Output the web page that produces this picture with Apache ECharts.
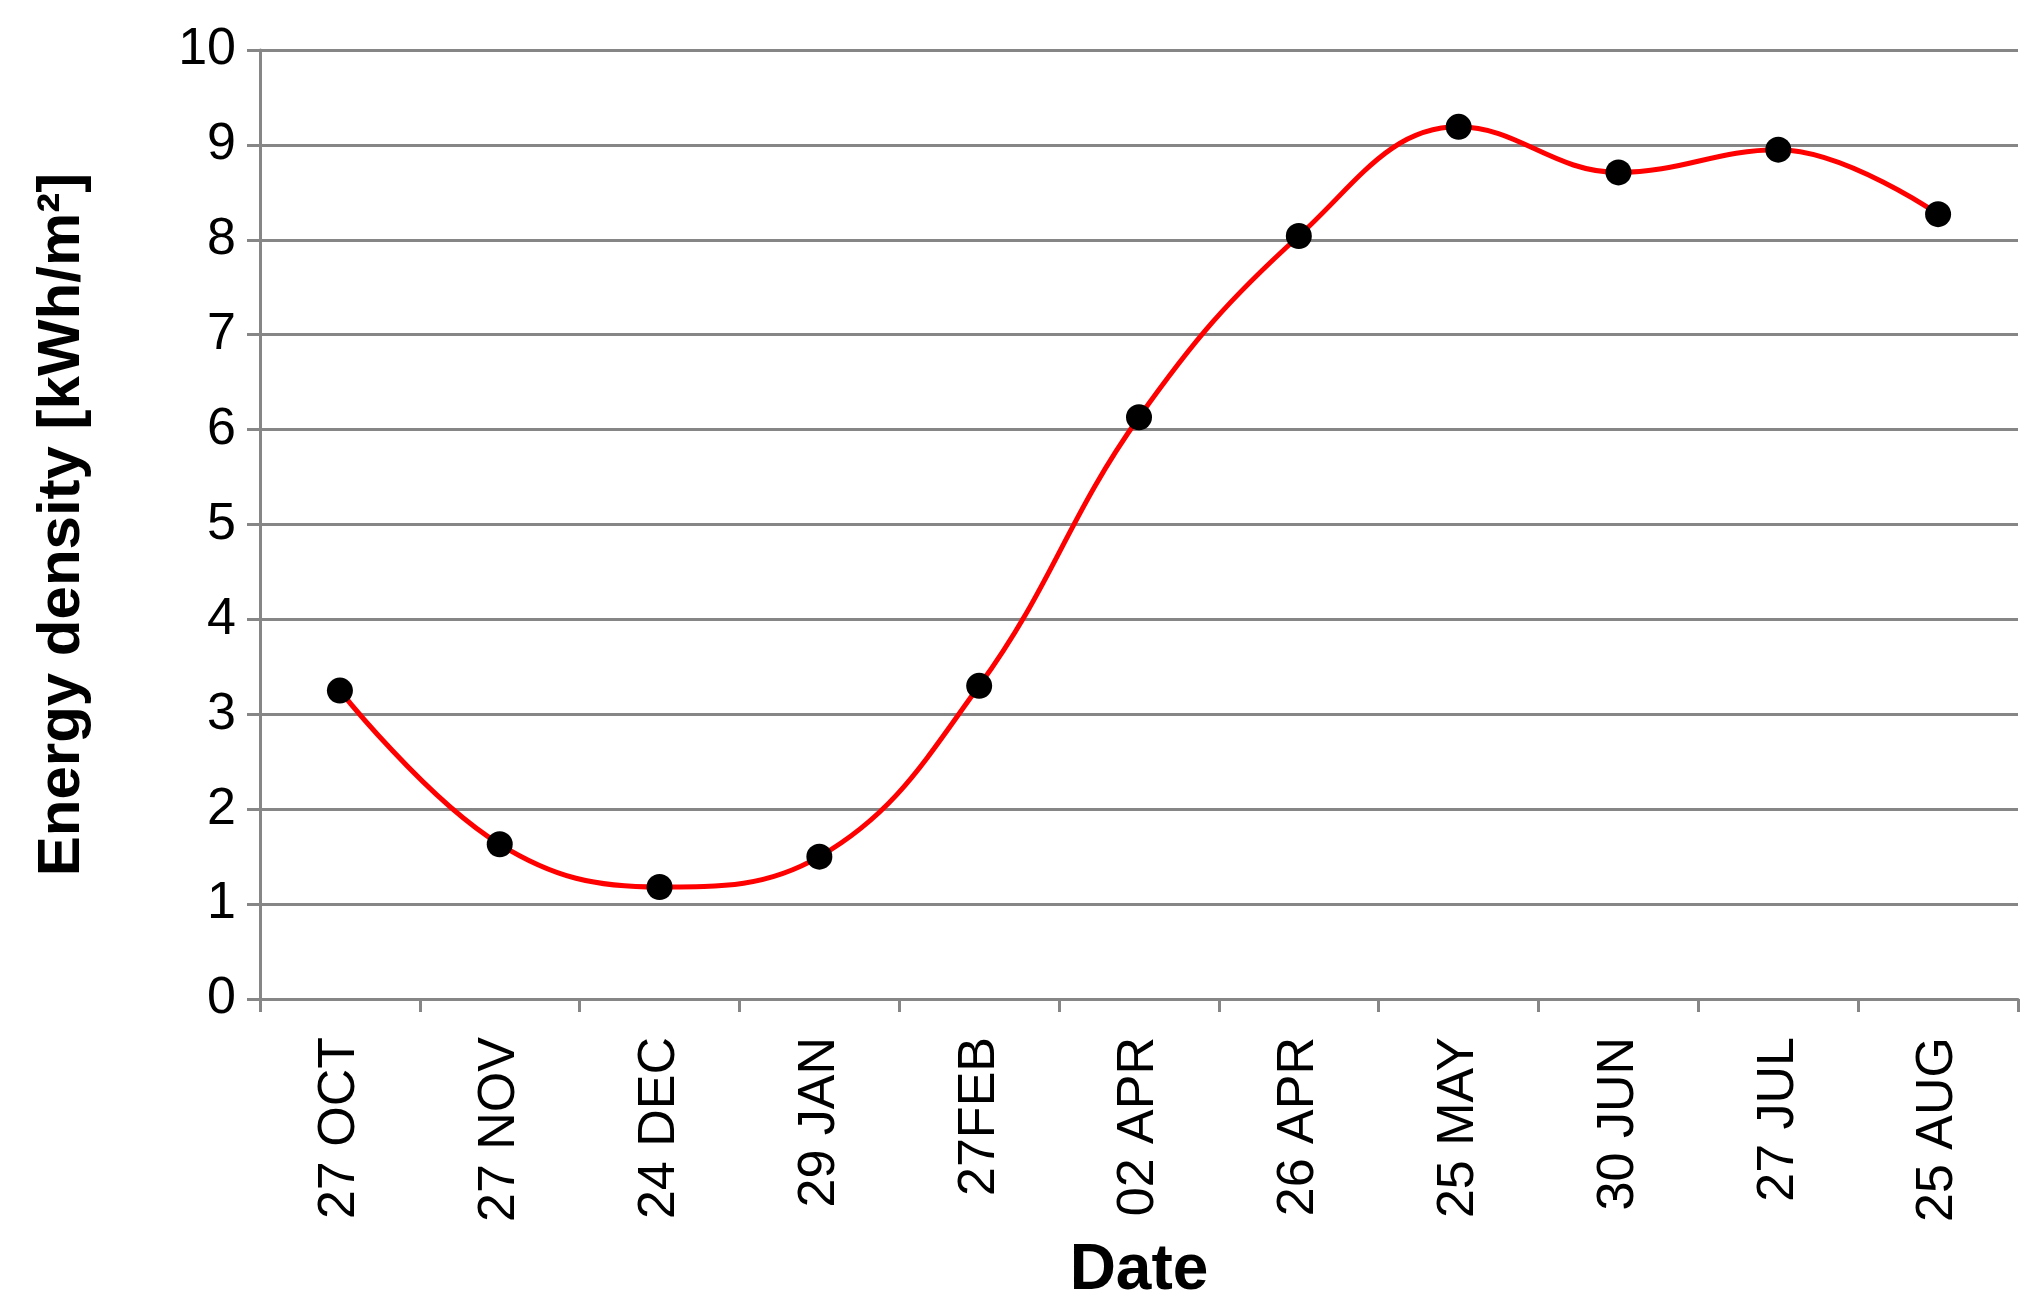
<!DOCTYPE html>
<html><head><meta charset="utf-8">
<script src="https://cdn.jsdelivr.net/npm/echarts@6/dist/echarts.min.js"></script>
<style>html,body{margin:0;padding:0;background:#fff}#c{width:2040px;height:1311px}</style>
</head><body><div id="c"></div>
<script>
const categories = ['27 OCT','27 NOV','24 DEC','29 JAN','27FEB','02 APR','26 APR','25 MAY','30 JUN','27 JUL','25 AUG'];
const energy = [3.25, 1.63, 1.18, 1.5, 3.3, 6.13, 8.04, 9.19, 8.71, 8.95, 8.27];
const chart = echarts.init(document.getElementById('c'));
const font = 'Liberation Sans, Arial, sans-serif';
chart.setOption({
  animation:false,
  grid:{left:260,right:22,top:50,bottom:312},
  xAxis:{type:'category',data:categories,boundaryGap:true,
    name:'Date',nameLocation:'middle',nameGap:240,
    nameTextStyle:{fontFamily:font,fontSize:64,fontWeight:'bold',color:'#000'},
    axisLine:{lineStyle:{color:'#868686',width:3}},
    axisTick:{show:true,length:13,lineStyle:{color:'#868686',width:3}},
    axisLabel:{rotate:90,fontFamily:font,fontSize:52,color:'#000',margin:38}},
  yAxis:{type:'value',min:0,max:10,interval:1,
    name:'Energy density [kWh/m²]',nameLocation:'middle',nameGap:168,
    nameTextStyle:{fontFamily:font,fontSize:60,fontWeight:'bold',color:'#000'},
    axisLine:{show:true,lineStyle:{color:'#868686',width:3}},
    axisTick:{show:true,length:13,lineStyle:{color:'#868686',width:3}},
    splitLine:{lineStyle:{color:'#868686',width:3}},
    axisLabel:{fontFamily:font,fontSize:52,color:'#000',margin:24}},
  series:[{type:'line',data:energy,smooth:0.4,symbol:'circle',symbolSize:26,
    lineStyle:{color:'#ff0000',width:5},itemStyle:{color:'#000'}}]
});
</script></body></html>
